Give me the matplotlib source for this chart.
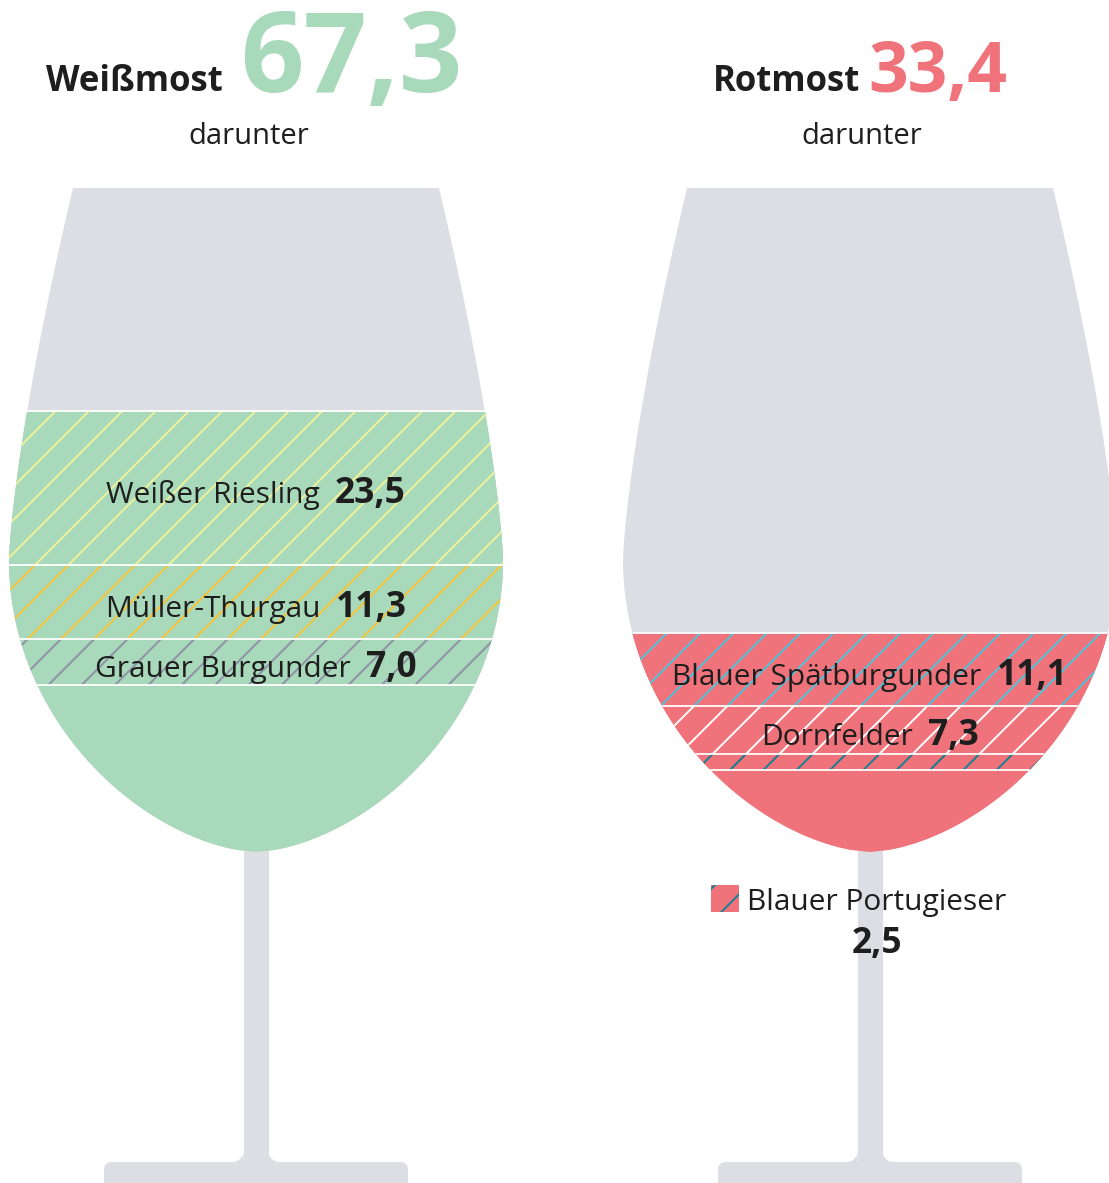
import numpy as np
import matplotlib
matplotlib.use("Agg")
import matplotlib.pyplot as plt
from matplotlib.patches import Polygon, Rectangle, FancyBboxPatch

# data (Mio. hl Most)
weiss_total = 67.3
weiss_sorts = ["Weißer Riesling", "Müller-Thurgau", "Grauer Burgunder"]
weiss_values = [23.5, 11.3, 7.0]
rot_total = 33.4
rot_sorts = ["Blauer Spätburgunder", "Dornfelder", "Blauer Portugieser"]
rot_values = [11.1, 7.3, 2.5]

GRAY = "#dcdee3"
GREEN = "#a8d9ba"
RED = "#f0727a"
TXT = "#1e1e1e"
weiss_hatch = ["#eef29a", "#f7c337", "#8f91a6"]
rot_hatch = ["#4fc3d9", "#ffffff", "#12808f"]

plt.rcParams["font.family"] = ["Open Sans", "DejaVu Sans"]
plt.rcParams["hatch.linewidth"] = 1.4

W, H = 1109, 1183
fig = plt.figure(figsize=(W / 100, H / 100), dpi=100)
ax = fig.add_axes([0, 0, 1, 1])
ax.set_xlim(0, W)
ax.set_ylim(H, 0)
ax.axis("off")

BOTTOM = 852   # bowl bottom (pixel row)
SCALE = 6.55   # pixel per Mio. hl
RIM = 188
BASE_TOP = 1162
LBL = 21.5
NUM = 25.5


def half_width(y):
    y0, a, b = 560.0, 247.0, 292.0
    y = np.asarray(y, dtype=float)
    up = a - 0.01858 * np.clip(y0 - y, 0, None) ** 1.376
    low = a * np.clip(1 - ((y - y0) / b) ** 2, 0, None) ** 0.6
    return np.where(y <= y0, up, low)


def draw_glass(cx):
    # stem + base
    ax.add_patch(Rectangle((cx - 12.5, 840), 25, BASE_TOP - 840 + 1, color=GRAY, lw=0, zorder=1))
    ax.add_patch(FancyBboxPatch((cx - 144, BASE_TOP + 8), 288, 40,
                                boxstyle="round,pad=8", color=GRAY, lw=0, zorder=1))
    # concave fillets where stem meets base
    r = 11
    t = np.linspace(0, np.pi / 2, 20)
    for s in (-1, 1):
        ex = cx + s * 12.5
        ccx, ccy = ex + s * r, BASE_TOP - r
        arc = [(ccx - s * r * np.cos(tt), ccy + r * np.sin(tt)) for tt in t]
        ax.add_patch(Polygon([(ex, BASE_TOP + 1)] + arc + [(ccx, BASE_TOP + 1)],
                             closed=True, color=GRAY, lw=0, zorder=1))
    # bowl
    ys = np.linspace(RIM, BOTTOM, 300)
    hw = half_width(ys)
    pts = list(zip(cx - hw, ys)) + list(zip(cx + hw[::-1], ys[::-1]))
    bowl = Polygon(pts, closed=True, color=GRAY, lw=0, zorder=2)
    ax.add_patch(bowl)
    return bowl


def fill_glass(cx, bowl, total, values, hatch_colors, base_color):
    top = BOTTOM - total * SCALE
    p = Rectangle((cx - 300, top), 600, BOTTOM - top + 5, color=base_color, lw=0, zorder=3)
    ax.add_patch(p)
    p.set_clip_path(bowl)
    bounds = [top]
    for v, hc in zip(values, hatch_colors):
        y1 = bounds[-1]
        h = v * SCALE
        band = Rectangle((cx - 300, y1), 600, h, facecolor=base_color, edgecolor=hc,
                         hatch="/", lw=0, zorder=4)
        ax.add_patch(band)
        band.set_clip_path(bowl)
        bounds.append(y1 + h)
    for b in bounds:
        ln, = ax.plot([cx - 300, cx + 300], [b, b], color="white", lw=1.3, zorder=5)
        ln.set_clip_path(bowl)
    return bounds


def fmt(v):
    return f"{v:.1f}".replace(".", ",")


fig.canvas.draw()
renderer = fig.canvas.get_renderer()


def label(cx, y, name, value):
    t1 = ax.text(0, y, name, fontsize=LBL, color=TXT, va="baseline", ha="left", zorder=6)
    t2 = ax.text(0, y, fmt(value), fontsize=NUM, color=TXT,
                 fontweight="bold", va="baseline", ha="left", zorder=6)
    gap = 15
    w1 = t1.get_window_extent(renderer).width
    w2 = t2.get_window_extent(renderer).width
    x0 = cx - (w1 + gap + w2) / 2
    t1.set_x(x0)
    t2.set_x(x0 + w1 + gap)


# left glass
cxl = 256
bowl_l = draw_glass(cxl)
bl = fill_glass(cxl, bowl_l, weiss_total, weiss_values, weiss_hatch, GREEN)
for i, (n, v) in enumerate(zip(weiss_sorts, weiss_values)):
    label(cxl, (bl[i] + bl[i + 1]) / 2 + 15, n, v)

# right glass
cxr = 870
bowl_r = draw_glass(cxr)
br = fill_glass(cxr, bowl_r, rot_total, rot_values, rot_hatch, RED)
for i, (n, v) in enumerate(zip(rot_sorts[:2], rot_values[:2])):
    label(cxr, (br[i] + br[i + 1]) / 2 + 15, n, v)

# legend for the thin Portugieser band
ax.add_patch(Rectangle((711, 885), 28, 27, facecolor=RED, edgecolor=rot_hatch[2],
                       hatch="/", lw=0, zorder=6))
ax.text(747, 910, rot_sorts[2], fontsize=LBL, color=TXT, va="baseline", ha="left", zorder=6)
ax.text(877, 953, fmt(rot_values[2]), fontsize=NUM, color=TXT, fontweight="bold",
        va="baseline", ha="center", zorder=6)

# headers
ax.text(223, 91, "Weißmost", fontsize=25, fontweight="bold", color=TXT, ha="right", va="baseline")
ax.text(240, 92, fmt(weiss_total), fontsize=80, fontweight="bold", color=GREEN, ha="left", va="baseline")
ax.text(249, 144, "darunter", fontsize=21, color=TXT, ha="center", va="baseline")

ax.text(860, 91, "Rotmost", fontsize=25, fontweight="bold", color=TXT, ha="right", va="baseline")
ax.text(868, 92, fmt(rot_total), fontsize=50, fontweight="bold", color=RED, ha="left", va="baseline")
ax.text(862, 144, "darunter", fontsize=21, color=TXT, ha="center", va="baseline")

fig.savefig("out.png", dpi=100, facecolor="white")
